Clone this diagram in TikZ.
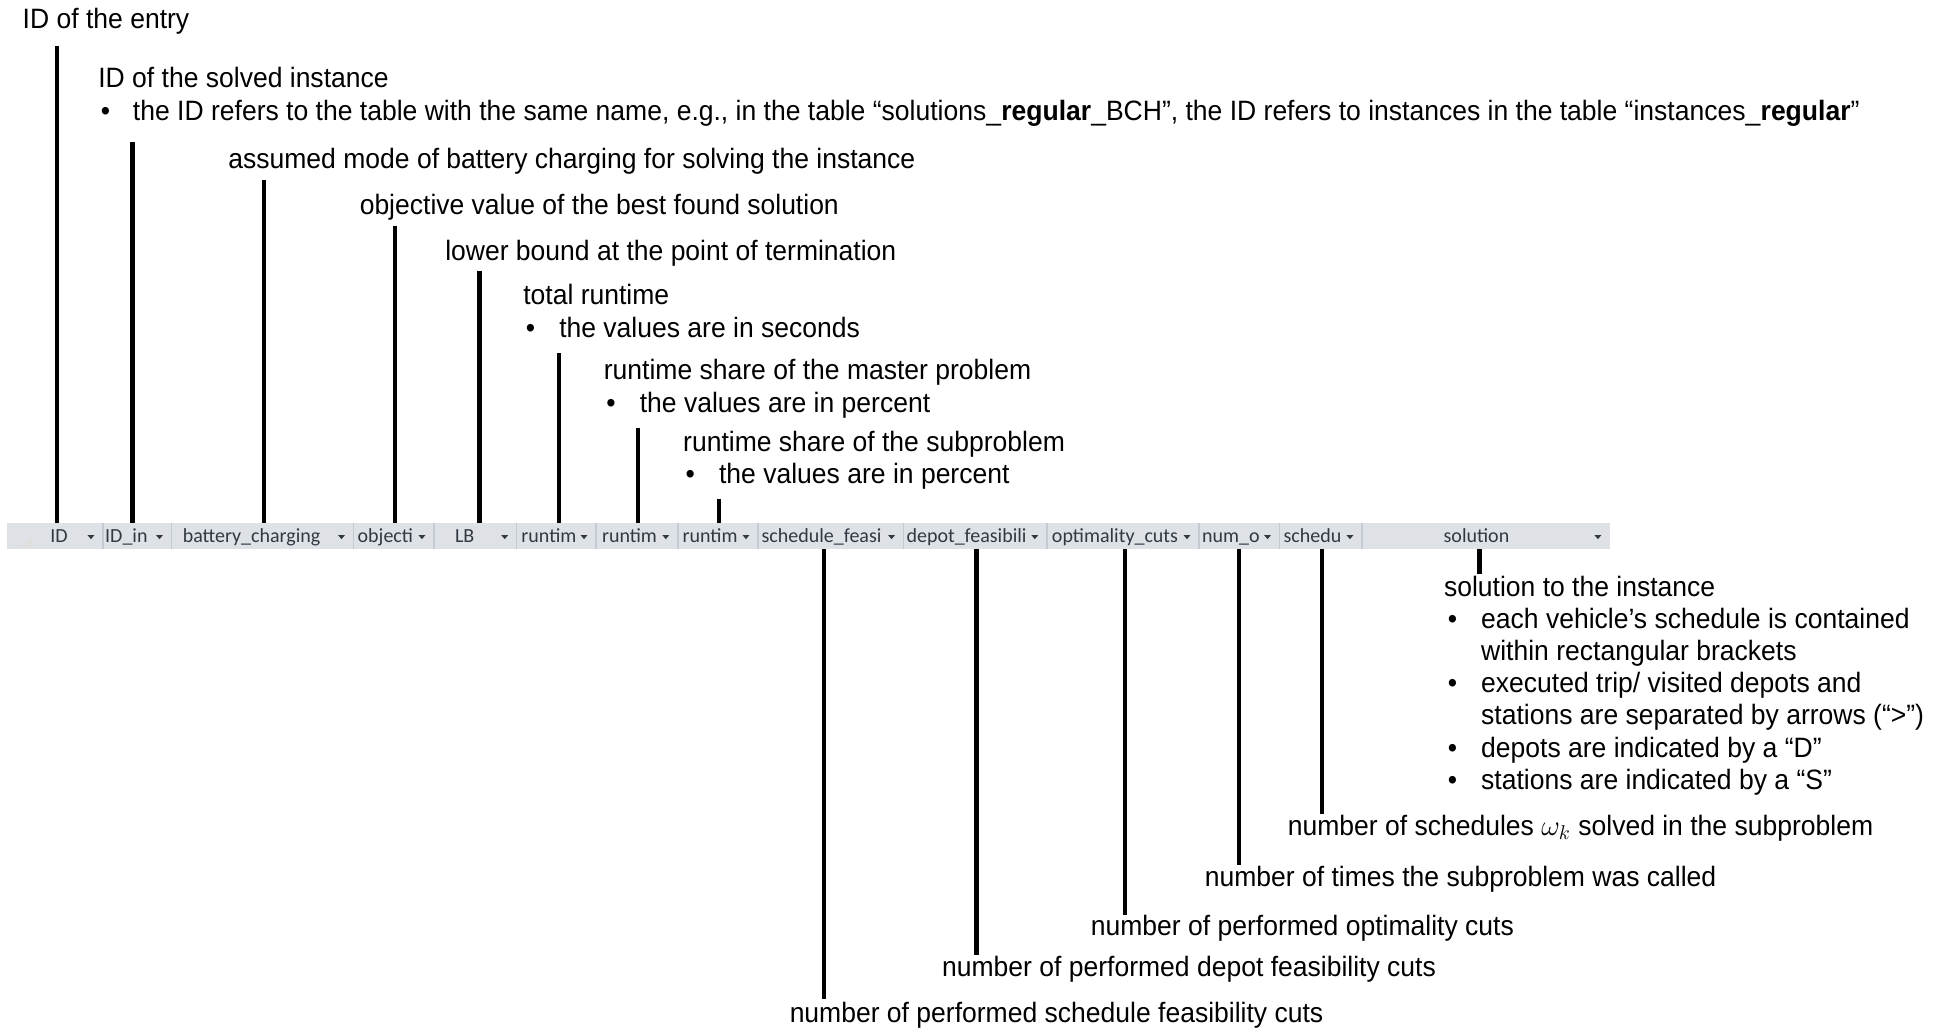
\documentclass[tikz,border=0pt]{standalone}
\usepackage{fontspec}
\setmainfont{Liberation Sans}[FakeStretch=0.947]
\newfontfamily\hdrfont{Carlito}
\usetikzlibrary{fit}
\definecolor{barfill}{RGB}{222,226,231}
\definecolor{bardiv}{RGB}{196,202,210}
\definecolor{hdrtext}{RGB}{50,55,65}
\begin{document}
\begin{tikzpicture}[x=0.6196pt,y=-0.6196pt,
  lbl/.style={anchor=base west,inner sep=0pt,font=\fontsize{14}{16}\selectfont},
  conn/.style={line width=2.2pt},
  hdr/.style={inner sep=0pt,anchor=base,font=\hdrfont\fontsize{10}{11}\selectfont,text=hdrtext},
  ddarrow/.style={fill=hdrtext,draw=none},
  divline/.style={draw=bardiv,line width=0.7pt}
]
\useasboundingbox (0,0) rectangle (1568,831);

% ---------- header bar ----------
\node[fit={(5.6,422)(1299.2,443)},inner sep=0pt,fill=barfill,draw=none] (bar) {};
\fill[gray!25] (16,442) -- (26,442) -- (26,432) -- cycle;
\foreach \d in {83.1,138.4,285.3,350.2,417,481,547,611.7,729.2,844.8,967.6,1032.6,1099.1}
  \draw[divline] (\d,422) -- (\d,443);
\foreach \a in {73.4,128.7,275.6,340.5,407.3,471.3,537.3,602,719.5,835.1,957.9,1022.9,1089.4,1289.5}
  \fill[ddarrow] (\a-2.8,431.8) -- (\a+2.8,431.8) -- (\a,435.1) -- cycle;

\node[hdr] (h1)  at (47.6,438) {ID};
\node[hdr] (h2)  at (102,438) {ID\_in};
\node[hdr] (h3)  at (203,438) {battery\_charging};
\node[hdr] (h4)  at (311,438) {objecti};
\node[hdr] (h5)  at (375,438) {LB};
\node[hdr] (h6)  at (443,438) {runtim};
\node[hdr] (h7)  at (508,438) {runtim};
\node[hdr] (h8)  at (573,438) {runtim};
\node[hdr] (h9)  at (663,438) {schedule\_feasi};
\node[hdr] (h10) at (780,438) {depot\_feasibili};
\node[hdr] (h11) at (899.8,438) {optimality\_cuts};
\node[hdr] (h12) at (993.4,438) {num\_o};
\node[hdr] (h13) at (1059.1,438) {schedu};
\node[hdr] (h14) at (1191.5,438) {solution};

% ---------- annotations above ----------
\node[lbl] (tEntry) at (18,23) {ID of the entry};
\node[lbl] (tInst) at (79,71) {ID of the solved instance};
\node[lbl] (bInst) at (81,97) {•};
\node[lbl] (tInstB) at (107,97) {the ID refers to the table with the same name, e.g., in the table “solutions\_\textbf{regular}\_BCH”, the ID refers to instances in the table “instances\_\textbf{regular}”};
\node[lbl] (tBatt) at (184,136) {assumed mode of battery charging for solving the instance};
\node[lbl] (tObj) at (290,173) {objective value of the best found solution};
\node[lbl] (tLB) at (359,210) {lower bound at the point of termination};
\node[lbl] (tRt) at (422,246) {total runtime};
\node[lbl] (bRt) at (424,272) {•};
\node[lbl] (tRtB) at (451,272) {the values are in seconds};
\node[lbl] (tRm) at (487,306) {runtime share of the master problem};
\node[lbl] (bRm) at (489,333) {•};
\node[lbl] (tRmB) at (516,333) {the values are in percent};
\node[lbl] (tRs) at (551,364) {runtime share of the subproblem};
\node[lbl] (bRs) at (553,390) {•};
\node[lbl] (tRsB) at (580,390) {the values are in percent};

% ---------- annotations below ----------
\node[lbl] (tSol) at (1165,481) {solution to the instance};
\node[lbl] (bSol1) at (1168,507) {•};
\node[lbl] (tSol1) at (1195,507) {each vehicle’s schedule is contained};
\node[lbl] (tSol1b) at (1195,533) {within rectangular brackets};
\node[lbl] (bSol2) at (1168,559) {•};
\node[lbl] (tSol2) at (1195,559) {executed trip/ visited depots and};
\node[lbl] (tSol2b) at (1195,585) {stations are separated by arrows (“>”)};
\node[lbl] (bSol3) at (1168,611) {•};
\node[lbl] (tSol3) at (1195,611) {depots are indicated by a “D”};
\node[lbl] (bSol4) at (1168,637) {•};
\node[lbl] (tSol4) at (1195,637) {stations are indicated by a “S”};
\node[lbl] (tSch) at (1039,674) {number of schedules $\omega_k$ solved in the subproblem};
\node[lbl] (tNum) at (972,715) {number of times the subproblem was called};
\node[lbl] (tOpt) at (880,755) {number of performed optimality cuts};
\node[lbl] (tDep) at (760,788) {number of performed depot feasibility cuts};
\node[lbl] (tSf) at (637,825) {number of performed schedule feasibility cuts};

% ---------- connectors ----------
\coordinate (aID) at (46,37);
\coordinate (aIn) at (107,115);
\coordinate (aBc) at (213,145);
\coordinate (aOb) at (319,182);
\coordinate (aLB) at (387,219);
\coordinate (aR1) at (451,285);
\coordinate (aR2) at (515,345);
\coordinate (aR3) at (580,403);
\foreach \c in {aID,aIn,aBc,aOb,aLB,aR1,aR2,aR3}
  \draw[conn] (\c) -- (\c |- bar.north);

\coordinate (zSf) at (665,806);
\coordinate (zDp) at (788,771);
\coordinate (zOp) at (908,738);
\coordinate (zNo) at (1000,698);
\coordinate (zSc) at (1067,657);
\coordinate (zSo) at (1194,463);
\foreach \c in {zSf,zDp,zOp,zNo,zSc,zSo}
  \draw[conn] (bar.south -| \c) -- (\c);
\end{tikzpicture}
\end{document}
